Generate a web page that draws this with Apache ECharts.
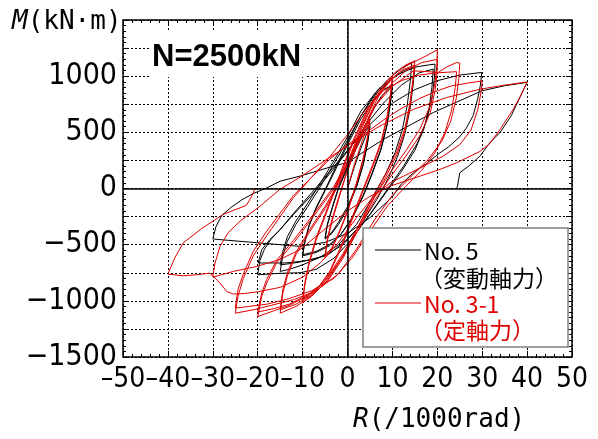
<!DOCTYPE html>
<html>
<head>
<meta charset="utf-8">
<script src="https://cdn.jsdelivr.net/npm/echarts@6/dist/echarts.min.js"></script>
<style>
  html, body { margin: 0; padding: 0; background: #fff; }
  #chart { width: 598px; height: 439px; }
</style>
</head>
<body>
<div id="chart"></div>
<script>
// No.5 (variable axial force) - R (/1000rad), M (kN·m), in test order
const no5 = [
  [0,0],[1.5,190],[3,360],[4.2,480],[5,550],
  [4.5,410],[3.5,210],[2,10],[0,-180],[-2,-320],[-3.5,-400],[-5,-450],
  [-4.5,-330],[-3.5,-190],[-2,0],[0,180],[2,360],[3.5,480],[5,560],
  [4.5,420],[3.5,220],[2,20],[0,-160],[-2,-300],[-3.5,-390],[-5,-440],
  [-4.5,-320],[-3.5,-180],[-2,10],[0,200],[2.5,440],[5,650],[7.5,820],[10,920],
  [9.6,780],[8.8,570],[7.5,360],[5.5,140],[3.5,-60],[1,-260],[-1.5,-410],[-4,-510],[-7,-570],[-10,-600],
  [-9.5,-480],[-8.6,-340],[-7,-180],[-5,-20],[-2.5,180],[0,390],[3,620],[6,800],[8,880],[10,920],
  [9.6,770],[8.8,560],[7.5,350],[5.5,130],[3.5,-70],[1,-270],[-1.5,-410],[-4,-500],[-7,-560],[-10,-590],
  [-9.5,-470],[-8.6,-330],[-7,-170],[-5,-10],[-2.5,200],[0,410],[3,650],[6,840],[9,970],[12,1070],[14.3,1122],
  [14,960],[13.3,740],[12.2,520],[10.6,320],[8.5,130],[5.5,-90],[2,-320],[-2,-500],[-6,-610],[-10,-680],[-13,-720],[-15,-738],
  [-14.4,-600],[-13.4,-470],[-11.5,-320],[-9,-170],[-6,20],[-3,220],[0,430],[3,650],[6.5,850],[10,980],[13,1060],[15,1080],
  [14.6,920],[13.9,700],[12.8,490],[11.2,290],[9.2,100],[6.5,-100],[3,-320],[-1,-500],[-5,-600],[-10,-650],[-13,-670],[-15,-680],
  [-14.4,-560],[-13.4,-430],[-11.5,-290],[-9,-140],[-6,50],[-3,250],[0,460],[3,690],[7,890],[11,1010],[15,1080],[18,1100],[19.5,1107],
  [19.3,960],[18.8,800],[17.6,600],[15.5,400],[12.5,200],[9,0],[5,-230],[1,-450],[-3,-620],[-7,-720],[-10.6,-750],[-15,-755],[-20,-768],
  [-19.5,-640],[-18.5,-540],[-17,-450],[-15,-366],[-12,-230],[-8,-60],[-4,130],[0,330],[4,560],[8,760],[12,920],[16,1030],[19.1,1062],
  [18.8,900],[18.2,720],[17,530],[15,340],[12,150],[8.5,-40],[4.5,-260],[0,-450],[-4,-580],[-7.5,-630],[-10.6,-650],[-14,-663],[-19.9,-663],
  [-19.1,-545],[-17.3,-455],[-15,-366],[-12,-220],[-8,-40],[-4,150],[0,340],[5,570],[10,760],[15,880],[20,960],[25,1010],[29.9,1033],
  [29.6,920],[29,800],[28,650],[26.5,540],[25,460],[22.5,370],[20.6,318],[17.5,220],[14.7,140],[12,40],[9.8,-83],[5,-260],[0,-400],[-5,-480],[-10.6,-515],[-19.5,-485],[-28.4,-455],[-30,-449],
  [-29.3,-340],[-28,-240],[-26,-170],[-23.5,-100],[-21,-45],[-18,5],[-15,65],[-10.6,110],[-3.2,199],[-0.2,229],[8,437],[19.1,676],[29.9,869],[35,915],[40,945],
  [38.5,820],[36.5,650],[34,500],[31.7,408],[29.5,288],[27,200],[25,140],[24.7,125],[24.5,20],[24.3,0]
];

// No.3-1 (constant axial force)
const no31 = [
  [0,0],[1.5,210],[3,390],[4.2,530],[5,610],
  [4.5,460],[3.5,260],[2,40],[0,-210],[-2,-410],[-3.5,-540],[-5,-620],
  [-4.5,-470],[-3.5,-300],[-2,-100],[-0.5,100],[1.5,320],[3.5,500],[5,620],
  [4.5,470],[3.5,270],[2,50],[0,-200],[-2,-400],[-3.5,-530],[-5,-600],
  [-4.5,-450],[-3.5,-280],[-2,-80],[0,160],[2.5,420],[5,660],[7.5,870],[10,1000],
  [9.6,850],[8.8,640],[7.5,420],[5.5,200],[3.5,0],[1,-260],[-1.5,-520],[-4,-740],[-6.5,-880],[-8.5,-970],[-10,-1020],
  [-9.5,-860],[-8.6,-680],[-7,-460],[-5,-250],[-3,-40],[-1,180],[1.5,430],[4.5,690],[7.5,880],[10,980],
  [9.6,830],[8.8,620],[7.5,400],[5.5,180],[3.5,-20],[1,-280],[-1.5,-540],[-4,-750],[-6.5,-880],[-8.5,-950],[-10,-990],
  [-9.5,-840],[-8.6,-660],[-7,-440],[-5,-230],[-3,-20],[-1,200],[1.5,450],[4.5,710],[7.5,900],[10.5,1030],[13,1100],[15,1137],
  [14.6,980],[13.9,760],[12.8,540],[11,330],[8.5,130],[5.5,-80],[2.5,-330],[-1,-600],[-4.5,-820],[-8,-960],[-11.5,-1050],[-15,-1110],
  [-14.4,-930],[-13.4,-780],[-11.5,-590],[-8.5,-390],[-5,-180],[-2,30],[0.5,260],[3,520],[6,780],[9.5,960],[12.5,1060],[15,1100],
  [14.6,950],[13.9,730],[12.8,510],[11,300],[8.5,100],[5.5,-110],[2.5,-360],[-1,-620],[-4.5,-830],[-8,-950],[-11.5,-1030],[-15,-1080],
  [-14.4,-900],[-13.4,-750],[-11.5,-570],[-8.5,-370],[-5,-160],[-2,50],[0.5,280],[3,540],[6,790],[10,980],[13,1090],[15,1130],[17.5,1180],[20,1235],
  [19.9,1092],[19.5,944],[18.4,735],[16.1,527],[13.2,348],[9.5,140],[6,-80],[2.5,-330],[-1,-580],[-5,-820],[-9,-960],[-13,-1040],[-16.5,-1090],[-20,-1140],
  [-19.1,-961],[-18,-842],[-15.8,-663],[-12,-485],[-7.6,-250],[-3,0],[0,220],[3,470],[6,720],[9.5,920],[13,1050],[16.5,1120],[20,1150],
  [19.9,1010],[19.5,870],[18.4,670],[16.1,470],[13.2,300],[9.5,100],[6,-110],[2.5,-360],[-1,-600],[-5,-830],[-9,-950],[-13,-1030],[-16.5,-1070],[-20,-1100],
  [-19.1,-930],[-18,-810],[-15.8,-640],[-12,-460],[-7.6,-230],[-3,20],[0,240],[3,490],[6,730],[10,910],[14.7,1047],[18,1040],[20.2,1033],[22,1080],[24.3,1122],[25,1116],
  [24.8,980],[24.2,800],[23,600],[21,420],[18,260],[14,100],[10,-60],[6,-280],[2,-540],[-2,-760],[-7,-910],[-12,-990],[-17,-1040],[-21,-1080],[-25,-1110],
  [-24.4,-960],[-23.2,-800],[-21,-600],[-18,-420],[-15,-250],[-12,-80],[-8,100],[-4,280],[0,480],[4,700],[8,870],[12,960],[16,1010],[20,1030],[24.3,1040],
  [24,900],[23.2,700],[21.7,500],[19.5,320],[16.5,160],[13,20],[9,-150],[5,-380],[1,-620],[-3,-800],[-8,-910],[-13,-980],[-18,-1030],[-22,-1050],[-25,-1065],
  [-24.4,-900],[-23.2,-760],[-21,-560],[-18,-380],[-15,-220],[-12,-60],[-8,100],[-4,260],[0,390],[4.3,500],[8,610],[11.7,705],[16,800],[20,870],[23.2,914],[27,940],[30,958],
  [29.7,850],[29,700],[27.5,520],[25,390],[21.3,288],[17,200],[13,120],[9.5,50],[6,-60],[2,-260],[-2,-480],[-6,-660],[-10,-790],[-15,-880],[-20,-920],[-23,-935],[-25.4,-940],[-26.9,-917],[-28.4,-842],[-29.5,-797],[-30,-785],
  [-29.5,-663],[-28.4,-515],[-26.5,-390],[-23.9,-290],[-19.5,-158],[-15.1,-9],[-10.6,100],[-5,250],[0,380],[7.2,556],[14.7,705],[22.1,810],[29.5,884],[35,920],[40,949],
  [38.5,820],[36.9,705],[34,527],[31.7,400],[29.5,330],[24.3,229],[20.6,170],[13.9,80],[9.5,21],[5,-70],[0,-200],[-5,-360],[-10.6,-545],[-15,-630],[-20.2,-694],[-25.4,-738],[-29.9,-788],[-30.6,-753],[-33.6,-768],[-36.6,-777],[-40,-762],
  [-38.5,-620],[-36.6,-485],[-32.8,-366],[-27.7,-230],[-22.5,-150],[-21.2,-60],[-20.6,5]
];

const seriesNames = ['No. 5', 'No. 3-1'];
const seriesNotes = ['（変動軸力）', '（定軸力）'];
const seriesColors = ['#000000', '#e00000'];
const titleText = 'N=2500kN';

const numFont = "'DejaVu Sans Condensed', 'DejaVu Sans', sans-serif";
const monoFont = "'DejaVu Sans Mono', monospace";
const jpFont = "'Noto Sans CJK JP', sans-serif";

const yFmt = v => (v < 0 ? '\u2212' + Math.abs(v) : String(v));
const xFmt = v => (v < 0 ? '\u2013' + Math.abs(v) : String(v));

const chart = echarts.init(document.getElementById('chart'));

const dashed = { show: true, lineStyle: { color: '#000', type: [2, 2], width: 1 } };
const tickIn = { show: true, inside: true, length: 6, lineStyle: { color: '#000', width: 1 } };
const minorIn = { show: true, splitNumber: 5, length: 3, lineStyle: { color: '#000', width: 1 } };

const option = {
  animation: false,
  backgroundColor: '#fff',
  grid: {
    left: 123, right: 26, top: 20, bottom: 82,
    show: true, borderColor: '#000', borderWidth: 1.5, backgroundColor: 'transparent'
  },
  xAxis: [
    {
      type: 'value', min: -50, max: 50, interval: 10, position: 'bottom',
      axisLine: { show: false, onZero: false },
      axisTick: tickIn, minorTick: minorIn, splitLine: dashed,
      axisLabel: {
        color: '#000', fontFamily: numFont, fontSize: 28, margin: 9,
        showMinLabel: true, showMaxLabel: true, formatter: xFmt
      }
    },
    {
      type: 'value', min: -50, max: 50, interval: 10, position: 'top',
      axisLine: { show: false, onZero: false },
      axisTick: tickIn, minorTick: minorIn, splitLine: { show: false },
      axisLabel: { show: false }
    }
  ],
  yAxis: [
    {
      type: 'value', min: -1500, max: 1500, interval: 250, position: 'left',
      axisLine: { show: false, onZero: false },
      axisTick: tickIn, minorTick: minorIn, splitLine: dashed,
      axisLabel: {
        color: '#000', fontFamily: numFont, fontSize: 30, margin: 6,
        showMinLabel: true,
        formatter: v => (v % 500 === 0 && v < 1500 ? yFmt(v) : '')
      }
    },
    {
      type: 'value', min: -1500, max: 1500, interval: 250, position: 'right',
      axisLine: { show: false, onZero: false },
      axisTick: tickIn, minorTick: minorIn, splitLine: { show: false },
      axisLabel: { show: false }
    }
  ],
  series: [
    {
      name: seriesNames[0], type: 'line', data: no5, showSymbol: false, symbol: 'none',
      lineStyle: { color: seriesColors[0], width: 1 }, z: 3,
      markLine: {
        silent: true, symbol: 'none', label: { show: false },
        lineStyle: { color: '#000', type: 'solid', width: 1.5 },
        data: [{ xAxis: 0 }, { yAxis: 0 }]
      }
    },
    {
      name: seriesNames[1], type: 'line', data: no31, showSymbol: false, symbol: 'none',
      lineStyle: { color: seriesColors[1], width: 1 }, z: 4
    }
  ],
  graphic: [
    { type: 'rect', z: 50, shape: { x: 150, y: 30, width: 156, height: 47 }, style: { fill: '#fff' } },
    {
      type: 'text', z: 51, x: 152, y: 57,
      style: { text: titleText, font: "bold 31px 'Liberation Sans', Arial, sans-serif", fill: '#000', verticalAlign: 'middle' }
    },
    {
      type: 'text', z: 51, x: 12, y: 22,
      style: {
        text: '{i|M}(kN·m)', font: "26px " + monoFont, fill: '#000', verticalAlign: 'middle',
        rich: { i: { fontStyle: 'italic', fontSize: 26, fontFamily: monoFont, fill: '#000' } }
      }
    },
    {
      type: 'text', z: 51, x: 353, y: 420,
      style: {
        text: '{i|R}(/1000rad)', font: "26px " + monoFont, fill: '#000', verticalAlign: 'middle',
        rich: { i: { fontStyle: 'italic', fontSize: 26, fontFamily: monoFont, fill: '#000' } }
      }
    },
    {
      type: 'rect', z: 60, shape: { x: 363, y: 228, width: 205, height: 119 },
      style: { fill: '#fff', stroke: '#808080', lineWidth: 1.5 }
    },
    { type: 'line', z: 61, shape: { x1: 375, y1: 250, x2: 421, y2: 250 }, style: { stroke: seriesColors[0], lineWidth: 1 } },
    { type: 'text', z: 61, x: 424, y: 251, style: { text: seriesNames[0], font: '23px ' + jpFont, fill: seriesColors[0], verticalAlign: 'middle' } },
    { type: 'text', z: 61, x: 420, y: 278, style: { text: seriesNotes[0], font: '23px ' + jpFont, fill: seriesColors[0], verticalAlign: 'middle' } },
    { type: 'line', z: 61, shape: { x1: 375, y1: 303, x2: 421, y2: 303 }, style: { stroke: seriesColors[1], lineWidth: 1 } },
    { type: 'text', z: 61, x: 424, y: 304, style: { text: seriesNames[1], font: '23px ' + jpFont, fill: seriesColors[1], verticalAlign: 'middle' } },
    { type: 'text', z: 61, x: 420, y: 330, style: { text: seriesNotes[1], font: '23px ' + jpFont, fill: seriesColors[1], verticalAlign: 'middle' } }
  ]
};

chart.setOption(option);
</script>
</body>
</html>
